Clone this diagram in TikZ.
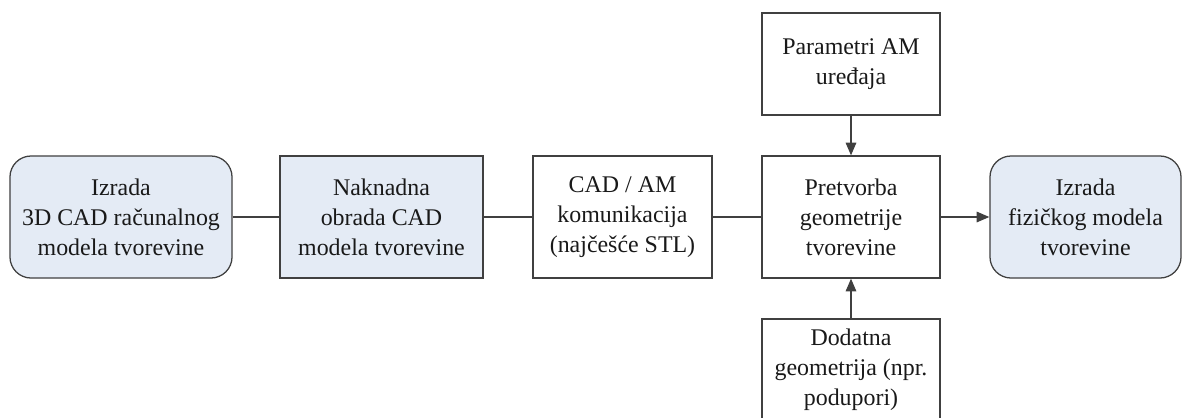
\documentclass[tikz,border=0pt]{standalone}
\usepackage{fontspec}
\setmainfont{Liberation Serif}
\usetikzlibrary{arrows.meta}

\definecolor{boxline}{HTML}{404040}
\definecolor{boxfill}{HTML}{E4EBF5}

\begin{document}
\begin{tikzpicture}[x=0.025cm, y=-0.025cm,
      every node/.style = {draw=boxline, line width=0.9pt, align=center,
        font=\fontsize{17}{21.3}\selectfont, text=black!90},
      stepbox/.style = {minimum height=3.05cm},
      sidebox/.style = {minimum width=4.45cm, minimum height=2.55cm},
      endbox/.style = {stepbox, rounded corners=15pt, fill=boxfill},
      link/.style = {draw=boxline, line width=0.9pt},
      feed/.style = {link, -{Triangle[length=9pt, width=7.5pt]}}]
      \useasboundingbox (0,0) rectangle (1184,417);
      \clip (0,0) rectangle (1184,417);
      \node[endbox, minimum width=5.55cm] (izrada3d) at (121,217)
        {Izrada\\3D CAD računalnog\\modela tvorevine};
      \node[stepbox, fill=boxfill, minimum width=5.075cm] (naknadna) at (381.5,217)
        {Naknadna\\obrada CAD\\modela tvorevine};
      \node[stepbox, minimum width=4.475cm] (cadam) at (622.5,217)
        {CAD / AM\\komunikacija\\(najčešće STL)};
      \node[stepbox, minimum width=4.45cm] (pretvorba) at (851,217)
        {Pretvorba\\geometrije\\tvorevine};
      \node[sidebox] (parametri) at (851,64)
        {Parametri AM\\uređaja};
      \node[sidebox] (dodatna) at (851,370)
        {Dodatna\\geometrija (npr.\\podupori)};
      \node[endbox, minimum width=4.775cm] (izradafiz) at (1085.5,217)
        {Izrada\\fizičkog modela\\tvorevine};
      \draw[link] (izrada3d) -- (naknadna);
      \draw[link] (naknadna) -- (cadam);
      \draw[link] (cadam) -- (pretvorba);
      \draw[feed] (pretvorba) -- (izradafiz);
      \draw[feed] (parametri) -- (pretvorba);
      \draw[feed] (dodatna) -- (pretvorba);
  \end{tikzpicture}
\end{document}
